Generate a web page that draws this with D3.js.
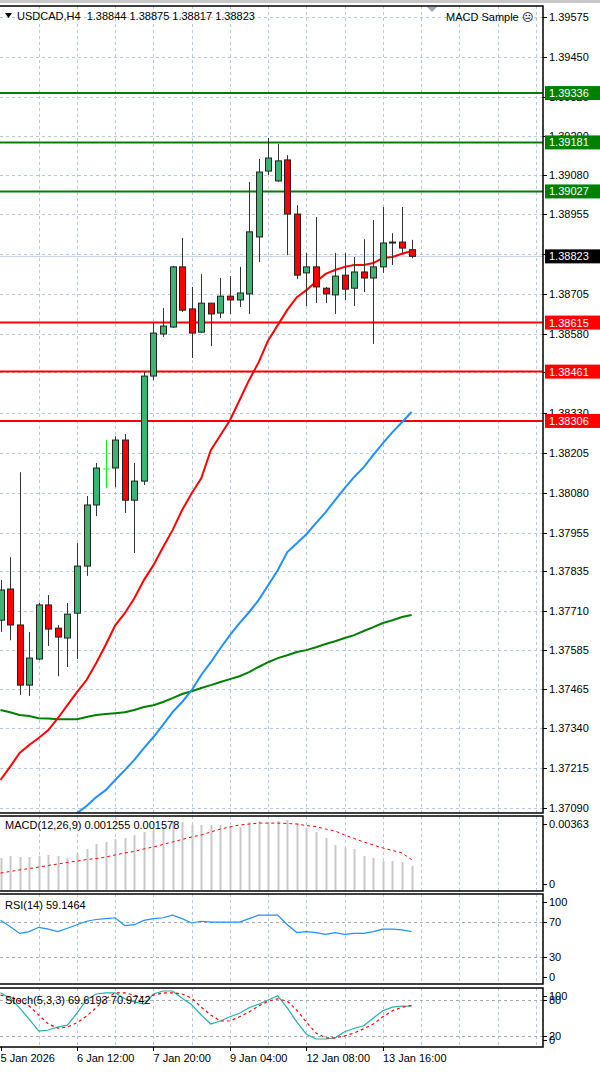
<!DOCTYPE html>
<html><head><meta charset="utf-8">
<script src="https://cdn.jsdelivr.net/npm/d3@7/dist/d3.min.js"></script>
<style>body{margin:0;background:#fff}svg{display:block}text{font-family:"Liberation Sans",Arial,sans-serif;font-size:11px}</style>
</head><body>
<script>
const opens=[1.37680,1.37778,1.37665,1.37476,1.37558,1.37728,1.37655,1.37624,1.37702,1.37850,1.38042,1.38155,1.38158,1.38246,1.38057,1.38117,1.38447,1.38579,1.38601,1.38790,1.38658,1.38585,1.38676,1.38645,1.38698,1.38686,1.38705,1.38884,1.39091,1.39060,1.39126,1.38956,1.38771,1.38790,1.38723,1.38702,1.38764,1.38723,1.38774,1.38755,1.38790,1.38865,1.38868,1.38844];
const highs=[1.37806,1.37878,1.38145,1.37643,1.37734,1.37759,1.37665,1.37734,1.37922,1.38070,1.38174,1.38246,1.38258,1.38265,1.38174,1.38460,1.38614,1.38661,1.38793,1.38881,1.38727,1.38767,1.38676,1.38755,1.38761,1.38790,1.39057,1.39129,1.39195,1.39176,1.39141,1.38984,1.38834,1.38947,1.38727,1.38834,1.38834,1.38821,1.38877,1.38937,1.38978,1.38896,1.38978,1.38875];
const lows=[1.37643,1.37617,1.37445,1.37442,1.37555,1.37599,1.37504,1.37533,1.37558,1.37819,1.38007,1.38095,1.38098,1.38017,1.37891,1.38105,1.38434,1.38570,1.38598,1.38648,1.38504,1.38582,1.38541,1.38629,1.38642,1.38664,1.38642,1.38805,1.39079,1.39057,1.38827,1.38752,1.38667,1.38676,1.38676,1.38642,1.38686,1.38667,1.38711,1.38548,1.38771,1.38796,1.38834,1.38817];
const closes=[1.37775,1.37665,1.37476,1.37561,1.37728,1.37652,1.37627,1.37699,1.37850,1.38042,1.38158,1.38155,1.38246,1.38057,1.38117,1.38447,1.38582,1.38604,1.38790,1.38654,1.38582,1.38676,1.38642,1.38698,1.38686,1.38708,1.38900,1.39088,1.39132,1.39123,1.38956,1.38764,1.38790,1.38727,1.38705,1.38761,1.38720,1.38774,1.38755,1.38790,1.38865,1.38868,1.38849,1.38823];
const maRed=[1.37178,1.37219,1.37263,1.37288,1.37310,1.37335,1.37372,1.37413,1.37454,1.37492,1.37545,1.37602,1.37664,1.37702,1.37749,1.37806,1.37853,1.37909,1.37963,1.38026,1.38079,1.38126,1.38214,1.38261,1.38308,1.38371,1.38434,1.38490,1.38559,1.38607,1.38655,1.38695,1.38717,1.38743,1.38768,1.38780,1.38790,1.38796,1.38796,1.38802,1.38818,1.38821,1.38831,1.38840];
const maBlue=[null,null,null,null,null,null,null,1.37050,1.37074,1.37096,1.37124,1.37146,1.37178,1.37209,1.37241,1.37278,1.37313,1.37351,1.37391,1.37423,1.37460,1.37508,1.37548,1.37592,1.37633,1.37671,1.37705,1.37743,1.37790,1.37837,1.37894,1.37922,1.37950,1.37985,1.38019,1.38057,1.38095,1.38130,1.38161,1.38199,1.38236,1.38271,1.38302,1.38334];
const maGreen=[1.37398,1.37391,1.37382,1.37379,1.37372,1.37371,1.37369,1.37369,1.37369,1.37376,1.37382,1.37385,1.37388,1.37391,1.37398,1.37407,1.37413,1.37423,1.37435,1.37448,1.37457,1.37467,1.37476,1.37486,1.37495,1.37504,1.37517,1.37533,1.37548,1.37561,1.37570,1.37580,1.37586,1.37595,1.37605,1.37614,1.37624,1.37633,1.37646,1.37658,1.37671,1.37680,1.37690,1.37696];
const macdHist=[0.00166,0.00176,0.00171,0.00171,0.00176,0.00182,0.00176,0.00166,0.00192,0.00213,0.00239,0.00249,0.00264,0.00270,0.00285,0.00301,0.00311,0.00327,0.00358,0.00353,0.00337,0.00337,0.00337,0.00337,0.00332,0.00327,0.00353,0.00358,0.00353,0.00358,0.00363,0.00347,0.00322,0.00301,0.00270,0.00233,0.00218,0.00213,0.00176,0.00166,0.00150,0.00150,0.00145,0.001255];
const macdSignal=[0.00088,0.00096,0.00104,0.00111,0.00119,0.00127,0.00135,0.00143,0.00150,0.00158,0.00163,0.00171,0.00182,0.00192,0.00200,0.00213,0.00223,0.00236,0.00249,0.00262,0.00275,0.00285,0.00301,0.00316,0.00327,0.00337,0.00342,0.00347,0.00347,0.00347,0.00345,0.00342,0.00334,0.00329,0.00316,0.00306,0.00285,0.00267,0.00249,0.00233,0.00218,0.00205,0.00192,0.001578];
const rsi=[72,65,57,59,64,62,59,63,67,71,73,74,75,66,67,72,74,75,78,74,69,71,70,70,70,70,74,78,78,78,67,58,59,58,56,58,56,57,57,59,62,62,61,59.1464];
const stochMain=[92,83,67,48,28,30,35,38,58,80,90,92,92,82,77,73,90,95,95,83,72,55,40,45,52,58,67,73,80,87,67,43,23,15,15,17,27,33,37,50,62,68,70,69.6193];
const stochSignal=[88,85,78,70,55,40,33,35,42,53,67,82,92,92,88,85,88,92,92,90,83,68,55,45,45,52,60,70,78,82,78,63,43,25,17,17,20,25,32,40,52,62,68,70.9742];
const priceTicks=[1.39575,1.39450,1.39325,1.39200,1.39080,1.38955,1.38830,1.38705,1.38580,1.38460,1.38330,1.38205,1.38080,1.37955,1.37835,1.37710,1.37585,1.37465,1.37340,1.37215,1.37090];
const resistance=[1.39336,1.39181,1.39027];
const support=[1.38615,1.38461,1.38306];
const lastPrice=1.38823;
const dateLabels=[[0,"5 Jan 2026"],[8,"6 Jan 12:00"],[16,"7 Jan 20:00"],[24,"9 Jan 04:00"],[32,"12 Jan 08:00"],[40,"13 Jan 16:00"]];
const header="USDCAD,H4  1.38844 1.38875 1.38817 1.38823";

const W=600,H=1072,R=543;
const svg=d3.select("body").append("svg").attr("width",W).attr("height",H);
const x=d3.scaleLinear().domain([0,1]).range([0.5,10.06]);
const P={main:[6,813],macd:[816,891],rsi:[894,984],st:[988,1047]};
const y=d3.scaleLinear().domain([1.39575,1.37090]).range([17,808]);
const ym=d3.scaleLinear().domain([0,0.00363]).range([890,820]);
const yr=d3.scaleLinear().domain([0,100]).range([983,896]);
const ys=d3.scaleLinear().domain([0,100]).range([1048,988]);
const grid="#b8c8dc";
const defs=svg.append("defs");
Object.entries(P).forEach(([k,[t,b]])=>{defs.append("clipPath").attr("id","c"+k).append("rect").attr("x",0).attr("y",t).attr("width",R).attr("height",b-t);});
svg.append("rect").attr("x",0).attr("y",0).attr("width",W).attr("height",3).attr("fill","#c8c8c8");
// vertical grid
const vIdx=d3.range(4,60,4);
Object.entries(P).forEach(([k,[t,b]])=>{
  svg.append("g").selectAll("line").data(vIdx).join("line").attr("x1",d=>Math.round(x(d))+0.5).attr("x2",d=>Math.round(x(d))+0.5).attr("y1",t).attr("y2",b)
   .attr("stroke",grid).attr("stroke-dasharray","3,3");
});
// main horizontal grid + ticks
const gm=svg.append("g").attr("clip-path","url(#cmain)");
gm.selectAll("line.h").data(priceTicks).join("line").attr("x1",0).attr("x2",R).attr("y1",d=>Math.round(y(d))+0.5).attr("y2",d=>Math.round(y(d))+0.5).attr("stroke",grid).attr("stroke-dasharray","3,3");
svg.append("g").selectAll("text").data(priceTicks).join("text").attr("x",549).attr("y",d=>y(d)+4).text(d=>d.toFixed(5)).attr("fill","#000");
svg.append("g").selectAll("line").data(priceTicks).join("line").attr("x1",R).attr("x2",R+4).attr("y1",d=>Math.round(y(d))+0.5).attr("y2",d=>Math.round(y(d))+0.5).attr("stroke","#000");
// current price line
gm.append("line").attr("x1",0).attr("x2",R).attr("y1",y(lastPrice)).attr("y2",y(lastPrice)).attr("stroke","#c0cfe0").attr("stroke-width",1);
// level lines
resistance.forEach(v=>gm.append("line").attr("x1",0).attr("x2",R).attr("y1",y(v)).attr("y2",y(v)).attr("stroke","#008000").attr("stroke-width",2));
support.forEach(v=>gm.append("line").attr("x1",0).attr("x2",R).attr("y1",y(v)).attr("y2",y(v)).attr("stroke","#ff0000").attr("stroke-width",2));
// MAs
const line=(arr,ys_)=>d3.line().defined(d=>d!=null).x((d,i)=>x(i)).y(d=>ys_(d))(arr);
[[maGreen,"#008000"],[maBlue,"#1e90ff"],[maRed,"#ff0000"]].forEach(([a,c])=>gm.append("path").attr("d",line(a,y)).attr("fill","none").attr("stroke",c).attr("stroke-width",2));
// candles
const idx=d3.range(opens.length);
const cg=gm.append("g");
idx.forEach(i=>{
  const o=opens[i],c=closes[i],cx=Math.round(x(i))+0.5;
  const doji=Math.abs(o-c)<0.00002;
  cg.append("line").attr("x1",cx).attr("x2",cx).attr("y1",y(highs[i])).attr("y2",y(lows[i])).attr("stroke",doji?"#00ff00":"#333").attr("stroke-width",1);
  if(doji){cg.append("line").attr("x1",cx-3).attr("x2",cx+3).attr("y1",y(o)).attr("y2",y(o)).attr("stroke","#00ff00");return;}
  const top=y(Math.max(o,c)),bot=y(Math.min(o,c));
  cg.append("rect").attr("x",cx-3).attr("y",top).attr("width",6).attr("height",Math.max(1,bot-top)).attr("fill",c>o?"#3cb371":"#ff0000").attr("stroke","#222").attr("stroke-width",1);
});
// tags
function tag(v,bg){svg.append("rect").attr("x",R+2).attr("y",y(v)-7).attr("width",W-R-2).attr("height",14).attr("fill",bg);
 svg.append("text").attr("x",549).attr("y",y(v)+4).attr("fill","#fff").text(v.toFixed(5));}
resistance.forEach(v=>tag(v,"#008000"));support.forEach(v=>tag(v,"#ff0000"));tag(lastPrice,"#000");
// header
svg.append("path").attr("d","M5,13 L12,13 L8.5,18 Z").attr("fill","#000");
svg.append("text").attr("x",17).attr("y",20).text(header).attr("fill","#000").attr("xml:space","preserve");
svg.append("text").attr("x",446).attr("y",21).text("MACD Sample ☹").attr("fill","#000");
svg.append("path").attr("d","M427,7 L437,7 L432,12 Z").attr("fill","#a0a8b8");

// MACD
const g1=svg.append("g").attr("clip-path","url(#cmacd)");
g1.selectAll("line.b").data(macdHist).join("line").attr("x1",(d,i)=>Math.round(x(i))+0.5).attr("x2",(d,i)=>Math.round(x(i))+0.5).attr("y1",ym(0)).attr("y2",d=>ym(d)).attr("stroke","#c8c8c8").attr("stroke-width",2);
g1.append("path").attr("d",line(macdSignal,ym)).attr("fill","none").attr("stroke","#ff0000").attr("stroke-dasharray","3,3");
svg.append("text").attr("x",5).attr("y",829).text("MACD(12,26,9) 0.001255 0.001578");
// RSI
const g2=svg.append("g").attr("clip-path","url(#crsi)");
[70,30].forEach(v=>g2.append("line").attr("x1",0).attr("x2",R).attr("y1",Math.round(yr(v))+0.5).attr("y2",Math.round(yr(v))+0.5).attr("stroke","#aaa").attr("stroke-dasharray","3,3"));
g2.append("path").attr("d",line(rsi,yr)).attr("fill","none").attr("stroke","#1e90ff").attr("stroke-width",1.2);
svg.append("text").attr("x",5).attr("y",909).text("RSI(14) 59.1464");
// Stoch
const g3=svg.append("g").attr("clip-path","url(#cst)");
[80,20].forEach(v=>g3.append("line").attr("x1",0).attr("x2",R).attr("y1",Math.round(ys(v))+0.5).attr("y2",Math.round(ys(v))+0.5).attr("stroke","#aaa").attr("stroke-dasharray","3,3"));
g3.append("path").attr("d",line(stochMain,ys)).attr("fill","none").attr("stroke","#20b2aa").attr("stroke-width",1.2);
g3.append("path").attr("d",line(stochSignal,ys)).attr("fill","none").attr("stroke","#ff0000").attr("stroke-dasharray","3,3").attr("stroke-width",1.2);
svg.append("text").attr("x",5).attr("y",1004).text("Stoch(5,3,3) 69.6193 70.9742");
// sub axis labels
function sub(vals,sc,[t,b],fmt){vals.forEach(v=>{const yy=Math.min(Math.max(sc(v),t+8),b-7);
 svg.append("text").attr("x",549).attr("y",yy+4).text(fmt(v));
 svg.append("line").attr("x1",R).attr("x2",R+4).attr("y1",Math.round(yy)+0.5).attr("y2",Math.round(yy)+0.5).attr("stroke","#000");});}
sub([0.00363,0],ym,P.macd,v=>v?v.toFixed(5):"0");
sub([100,70,30,0],yr,P.rsi,v=>v);
sub([100,80,20,0],ys,P.st,v=>v);
// frames
Object.values(P).forEach(([t,b])=>svg.append("rect").attr("x",-2).attr("y",t).attr("width",R+2).attr("height",b-t).attr("fill","none").attr("stroke","#000").attr("stroke-width",1.5));
// dates
dateLabels.forEach(([i,s])=>{svg.append("text").attr("x",x(i)).attr("y",1062).text(s);
 svg.append("line").attr("x1",Math.round(x(i))+0.5).attr("x2",Math.round(x(i))+0.5).attr("y1",1047).attr("y2",1051).attr("stroke","#000");});
</script></body></html>
